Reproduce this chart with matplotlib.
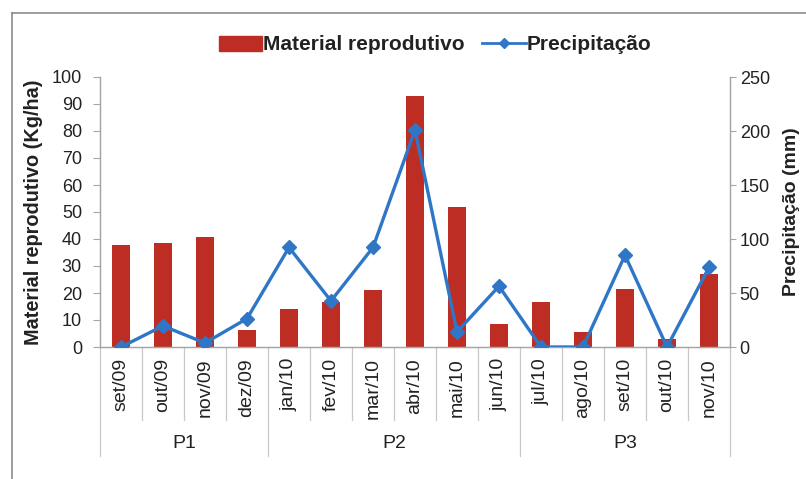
import matplotlib
matplotlib.use("Agg")
import matplotlib.pyplot as plt
from matplotlib.lines import Line2D
from matplotlib.patches import Patch
from matplotlib.transforms import blended_transform_factory

plt.rcParams["font.family"] = ["Liberation Sans", "DejaVu Sans"]

# Months of the sampling period
months = ["set/09", "out/09", "nov/09", "dez/09", "jan/10", "fev/10", "mar/10",
          "abr/10", "mai/10", "jun/10", "jul/10", "ago/10", "set/10", "out/10", "nov/10"]
# Reproductive material (Kg/ha), left axis
material = [37.6, 38.6, 40.8, 6.2, 13.9, 16.8, 21.0, 92.8, 51.7, 8.7, 16.6, 5.6, 21.3, 3.0, 26.9]
# Precipitation (mm), right axis
precip = [0, 19.5, 3.7, 26.3, 92.2, 42.7, 92.2, 201, 14, 56.3, 0, 0, 85, 0, 73.7]
# Period groups: name, first index, last index
periods = ["P1", "P2", "P3"]
period_start = [0, 4, 10]
period_end = [3, 9, 14]

W, H = 806, 479
fig = plt.figure(figsize=(W / 100, H / 100), dpi=100)
fig.patch.set_facecolor("white")

def px_x(x):
    return x / W

def px_y(y):
    return 1 - y / H

ax_left, ax_right, ax_top, ax_bottom = 100, 730, 77, 347
ax = fig.add_axes([px_x(ax_left), px_y(ax_bottom), (ax_right - ax_left) / W,
                   (ax_bottom - ax_top) / H])
ax2 = ax.twinx()

red = "#BE2D23"
blue = "#2F77C6"
grey = "#A6A6A6"
text_col = "#222222"

x = list(range(len(months)))
ax.bar(x, material, width=0.41, color=red, zorder=2)
ax2.plot(x, precip, color=blue, lw=2.4, marker="D", markersize=7,
         markerfacecolor=blue, markeredgecolor=blue, zorder=3)

ax.set_xlim(-0.5, len(months) - 0.5)
ax.set_ylim(0, 100)
ax.set_yticks(range(0, 101, 10))
ax2.set_ylim(0, 250)
ax2.set_yticks(range(0, 251, 50))

for a in (ax, ax2):
    a.spines["top"].set_visible(False)
    for s in ("left", "right", "bottom"):
        a.spines[s].set_color(grey)
        a.spines[s].set_linewidth(0.9)
ax.set_zorder(ax2.get_zorder() - 1)
ax2.patch.set_visible(False)

ax.tick_params(axis="y", length=5, width=0.8, color=grey, pad=8, labelsize=13,
               labelcolor=text_col)
ax2.tick_params(axis="y", length=4, width=0.8, color=grey, pad=3, labelsize=13,
                labelcolor=text_col)
ax.set_xticks(x)
ax.set_xticklabels(months, rotation=90, fontsize=14, color=text_col)
ax.tick_params(axis="x", length=0, pad=8)

ax.set_ylabel("Material reprodutivo (Kg/ha)", fontsize=14.3, fontweight="bold",
              color=text_col)
ax.yaxis.set_label_coords((43 - ax_left) / (ax_right - ax_left), 0.5)
ax2.set_ylabel("Precipitação (mm)", fontsize=14, fontweight="bold",
               color=text_col, rotation=90)
ax2.yaxis.set_label_coords((783 - ax_left) / (ax_right - ax_left), 0.5)

# Category separators and period separators below the axis
trans = blended_transform_factory(ax.transData, ax.transAxes)
ah = ax_bottom - ax_top
short_y = -(420 - ax_bottom) / ah
long_y = -(456 - ax_bottom) / ah
bounds = [s - 0.5 for s in period_start] + [period_end[-1] + 0.5]
for i in range(len(months) + 1):
    xb = i - 0.5
    y_end = long_y if xb in bounds else short_y
    ax.plot([xb, xb], [0, y_end], color="#C8C8C8", lw=0.9, transform=trans,
            clip_on=False, zorder=1)

label_y = -(443 - ax_bottom) / ah
for name, s, e in zip(periods, period_start, period_end):
    ax.text((s + e) / 2, label_y, name, transform=trans, ha="center", va="center",
            fontsize=14, color=text_col)

# Legend
handles = [Patch(facecolor=red, edgecolor=red),
           Line2D([], [], color=blue, lw=2, marker="D", markersize=5,
                  markerfacecolor=blue, markeredgecolor=blue)]
labels = ["Material reprodutivo", "Precipitação"]
fig.legend(handles, labels, loc="center", bbox_to_anchor=(px_x(435), px_y(45)),
           ncol=2, frameon=False, prop={"weight": "bold", "size": 15},
           handlelength=2.1, handletextpad=0.05, columnspacing=0.8,
           labelcolor=text_col)

# Outer frame (left and top edges; the others fall outside the canvas)
frame_col = "#8C8C8C"
fig.add_artist(Line2D([px_x(12), px_x(12)], [px_y(13), 0], transform=fig.transFigure,
                      color=frame_col, lw=1.2))
fig.add_artist(Line2D([px_x(12), 1], [px_y(13), px_y(13)], transform=fig.transFigure,
                      color=frame_col, lw=1.2))

fig.savefig("out.png", dpi=100)
